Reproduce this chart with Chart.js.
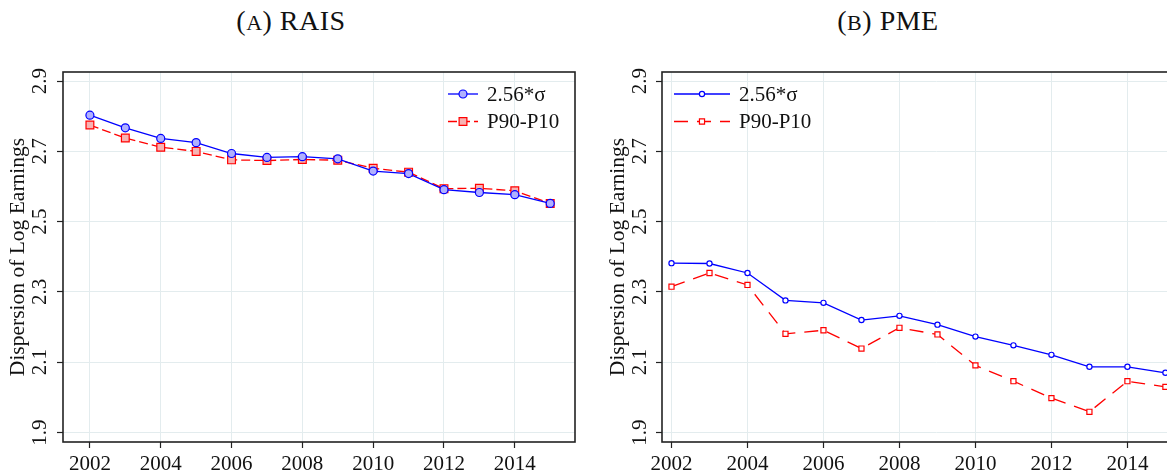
<!doctype html>
<html>
  <head>
    <title>Dispersion of Log Earnings: RAIS and PME</title>
    <script src="https://cdn.jsdelivr.net/npm/chart.js"></script>
    <style>
      html, body { margin: 0; padding: 0; overflow: hidden; background: #fff; }
      body { width: 1167px; height: 472px; position: relative; }
      .title {
        position: absolute;
        top: 5px;
        font-family: "Liberation Serif", serif;
        font-size: 28px;
        letter-spacing: 0.5px;
        color: #111;
        white-space: nowrap;
        transform: translateX(-50%);
      }
      .sc { font-size: 22px; }
      canvas { position: absolute; top: 0; }
    </style>
  </head>

  <body>
    <div class="title" style="left: 291px">(<span class="sc">A</span>) RAIS</div>
    <div class="title" style="left: 888px">(<span class="sc">B</span>) PME</div>
    <canvas id="rais" width="600" height="472" style="left: 0"></canvas>
    <canvas id="pme" width="640" height="472" style="left: 600px"></canvas>

    <script>
      // yearly dispersion series
      var years = [2002, 2003, 2004, 2005, 2006, 2007, 2008, 2009, 2010, 2011, 2012, 2013, 2014, 2015];
      var yearTicks = [2002, 2004, 2006, 2008, 2010, 2012, 2014];
      var dispTicks = [1.9, 2.1, 2.3, 2.5, 2.7, 2.9];
      var seriesLabels = ["2.56*σ", "P90-P10"];
      var raisSigma = [2.803, 2.767, 2.737, 2.725, 2.694, 2.683, 2.685, 2.679, 2.644, 2.637, 2.591, 2.583, 2.577, 2.552];
      var raisP9010 = [2.775, 2.738, 2.712, 2.700, 2.676, 2.674, 2.677, 2.675, 2.652, 2.641, 2.594, 2.595, 2.588, 2.552];
      var pmeSigma = [2.382, 2.381, 2.354, 2.276, 2.269, 2.220, 2.232, 2.207, 2.173, 2.148, 2.121, 2.087, 2.087, 2.070];
      var pmeP9010 = [2.315, 2.354, 2.320, 2.181, 2.191, 2.139, 2.198, 2.179, 2.091, 2.046, 1.998, 1.959, 2.046, 2.030];

      var SERIF = "'Liberation Serif', 'Times New Roman', serif";

      function points(values) {
        return years.map(function (yr, i) {
          return { x: yr, y: values[i] };
        });
      }

      function drawMarker(ctx, ds, x, y) {
        ctx.beginPath();
        if (ds.pointStyle === "rect") {
          var h = ds.pointRadius * Math.SQRT1_2;
          ctx.rect(x - h, y - h, 2 * h, 2 * h);
        } else {
          ctx.arc(x, y, ds.pointRadius, 0, Math.PI * 2);
        }
        ctx.fillStyle = ds.pointBackgroundColor;
        ctx.fill();
        ctx.lineWidth = ds.pointBorderWidth;
        ctx.strokeStyle = ds.borderColor;
        ctx.setLineDash([]);
        ctx.stroke();
      }

      // frame, rotated y labels and legend, Stata style
      var panelDecor = {
        id: "panelDecor",
        beforeDatasetsDraw: function (chart) {
          var ctx = chart.ctx, a = chart.chartArea;
          ctx.save();
          ctx.strokeStyle = "#222";
          ctx.lineWidth = 1.6;
          ctx.strokeRect(a.left, a.top, a.right - a.left, a.bottom - a.top);
          ctx.restore();
        },
        afterDraw: function (chart) {
          var ctx = chart.ctx, a = chart.chartArea, ys = chart.scales.y;
          var o = chart.options.plugins.panelDecor;
          ctx.save();
          ctx.fillStyle = "#111";
          ctx.font = "21px " + SERIF;
          ctx.textAlign = "center";
          ctx.textBaseline = "middle";
          ys.ticks.forEach(function (t) {
            ctx.save();
            ctx.translate(a.left - o.labelOffset, ys.getPixelForValue(t.value));
            ctx.rotate(-Math.PI / 2);
            ctx.fillText(t.value.toFixed(1), 0, 0);
            ctx.restore();
          });

          chart.data.datasets.forEach(function (ds, i) {
            var y = o.legendRows[i];
            ctx.beginPath();
            ctx.setLineDash(ds.borderDash || []);
            ctx.strokeStyle = ds.borderColor;
            ctx.lineWidth = ds.borderWidth;
            ctx.moveTo(o.legendX, y);
            ctx.lineTo(o.legendX + o.sampleLen, y);
            ctx.stroke();
            drawMarker(ctx, ds, o.legendX + o.sampleLen / 2, y);
            ctx.fillStyle = "#111";
            ctx.font = "21px " + SERIF;
            ctx.textAlign = "left";
            ctx.textBaseline = "middle";
            ctx.fillText(ds.label, o.textX, y + 1);
          });
          ctx.restore();
        },
      };

      function makeChart(id, sigma, p9010, cfg) {
        var ctx = document.getElementById(id).getContext("2d");
        return new Chart(ctx, {
          type: "line",
          data: {
            datasets: [
              {
                label: seriesLabels[0],
                data: points(sigma),
                borderColor: "#0000ff",
                borderWidth: 1.3,
                pointStyle: "circle",
                pointRadius: cfg.circleR,
                pointBorderWidth: 1.2,
                pointBackgroundColor: cfg.blueFill,
                pointBorderColor: "#0000ff",
              },
              {
                label: seriesLabels[1],
                data: points(p9010),
                borderColor: "#ff0000",
                borderWidth: 1.3,
                borderDash: cfg.dash,
                pointStyle: "rect",
                pointRadius: cfg.rectR,
                pointBorderWidth: 1.2,
                pointBackgroundColor: cfg.redFill,
                pointBorderColor: "#ff0000",
              },
            ],
          },
          options: {
            responsive: false,
            animation: false,
            layout: { padding: { top: 72, right: cfg.padRight, left: 0, bottom: 0 } },
            elements: { line: { tension: 0 } },
            plugins: {
              legend: { display: false },
              tooltip: { enabled: false },
              panelDecor: cfg.decor,
            },
            scales: {
              x: {
                type: "linear",
                min: cfg.xMin,
                max: cfg.xMax,
                afterBuildTicks: function (s) {
                  s.ticks = yearTicks.map(function (v) { return { value: v }; });
                },
                afterFit: function (s) { s.height = 30; },
                border: { display: false },
                grid: { color: "#e3ecee", lineWidth: 1, tickLength: 6, tickColor: "#222", tickWidth: 1.2 },
                ticks: {
                  color: "#111",
                  font: { family: SERIF, size: 21 },
                  padding: 4,
                  maxRotation: 0,
                  callback: function (v) { return String(v); },
                },
              },
              y: {
                min: 1.873,
                max: 2.926,
                afterBuildTicks: function (s) {
                  s.ticks = dispTicks.map(function (v) { return { value: v }; });
                },
                afterFit: function (s) { s.width = cfg.yWidth; },
                border: { display: false },
                grid: { color: "#e3ecee", lineWidth: 1, tickLength: 6, tickColor: "#222", tickWidth: 1.2 },
                ticks: { display: false },
                title: {
                  display: true,
                  text: "Dispersion of Log Earnings",
                  color: "#111",
                  font: { family: SERIF, size: 21.5 },
                  padding: { top: 5, bottom: 0 },
                },
              },
            },
          },
          plugins: [panelDecor],
        });
      }

      makeChart("rais", raisSigma, raisP9010, {
        xMin: 2001.24, xMax: 2015.7, padRight: 25, yWidth: 63,
        circleR: 4, rectR: 5.5, dash: [9, 4],
        blueFill: "#b0b0ff", redFill: "#f7b3b3",
        decor: { labelOffset: 23, legendX: 448, sampleLen: 30, textX: 487, legendRows: [94, 121.5] },
      });

      makeChart("pme", pmeSigma, pmeP9010, {
        xMin: 2001.75, xMax: 2016.2, padRight: 29, yWidth: 62,
        circleR: 2.6, rectR: 3.6, dash: [14, 9],
        blueFill: "#ffffff", redFill: "#ffffff",
        decor: { labelOffset: 22, legendX: 74, sampleLen: 56, textX: 139, legendRows: [94, 121.5] },
      });
    </script>
  </body>
</html>
